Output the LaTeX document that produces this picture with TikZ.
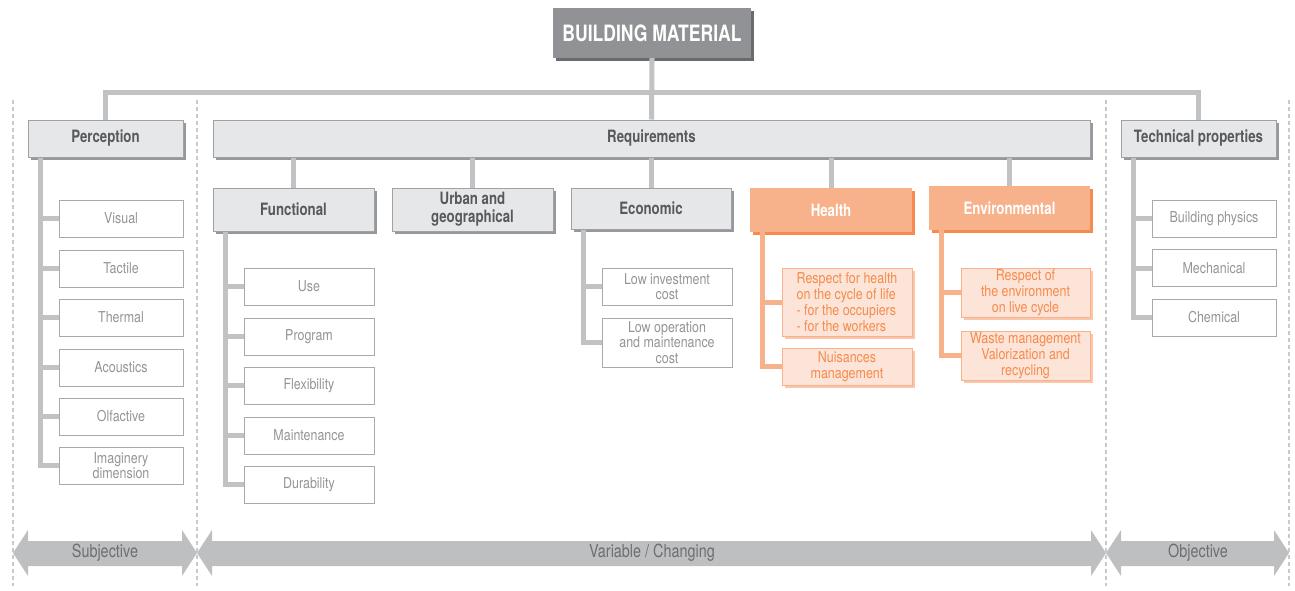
\documentclass[tikz,border=0pt]{standalone}
\usepackage{fontspec}
\setmainfont{TeX Gyre Heros}[FakeStretch=0.8]
\newfontfamily\childfont{TeX Gyre Heros}[FakeStretch=0.83]
\newfontfamily\hdrfont{TeX Gyre Heros}[FakeStretch=0.78]
\newfontfamily\titlefont{TeX Gyre Heros}[FakeStretch=0.78]
\usetikzlibrary{shadows}
\definecolor{titlefill}{HTML}{919295}
\definecolor{titleshadow}{HTML}{6A6B6E}
\definecolor{hdrfill}{HTML}{E6E7E8}
\definecolor{hdrborder}{HTML}{A0A1A4}
\definecolor{hdrshadow}{HTML}{97989B}
\definecolor{hdrtext}{HTML}{58595B}
\definecolor{conncol}{HTML}{C1C2C4}
\definecolor{childborder}{HTML}{A7A9AC}
\definecolor{childtext}{HTML}{939598}
\definecolor{orfill}{HTML}{F7B18B}
\definecolor{orshadow}{HTML}{F58B4C}
\definecolor{orchild}{HTML}{FDE4D8}
\definecolor{orchildshadow}{HTML}{F9C6AA}
\definecolor{ortext}{HTML}{F58B4C}
\definecolor{dashcol}{HTML}{C8C9CB}
\definecolor{arrowcol}{HTML}{BEBFC1}
\definecolor{arrowtext}{HTML}{6D6E71}
\tikzset{
  titlebox/.style={draw=none, fill=titlefill, text=white, font=\titlefont\bfseries\fontsize{22.5}{24}\selectfont,
    minimum width=198, minimum height=50, inner sep=0,
    general shadow={fill=titleshadow, shadow xshift=3pt, shadow yshift=-3pt}},
  hdr/.style={draw=hdrborder, line width=1pt, fill=hdrfill, text=hdrtext, align=center,
    font=\hdrfont\bfseries\fontsize{17}{18}\selectfont, inner sep=0,
    general shadow={fill=hdrshadow, shadow xshift=3pt, shadow yshift=-3pt}},
  orhdr/.style={draw=none, fill=orfill, text=white, align=center,
    font=\hdrfont\bfseries\fontsize{17}{18}\selectfont, inner sep=0,
    general shadow={fill=orshadow, shadow xshift=3pt, shadow yshift=-3pt}},
  child/.style={draw=childborder, line width=1pt, fill=white, text=childtext, align=center,
    font=\childfont\fontsize{15}{15.5}\selectfont, inner sep=0, minimum height=37},
  orchildbox/.style={draw=orfill, line width=1pt, fill=orchild, text=ortext, align=center,
    font=\childfont\fontsize{15}{16}\selectfont, inner sep=0, minimum height=37,
    general shadow={fill=orchildshadow, shadow xshift=3pt, shadow yshift=-3pt}},
  conn/.style={draw=conncol, line width=5pt},
  orconn/.style={draw=orfill, line width=5pt},
  sepline/.style={draw=dashcol, line width=2pt, dash pattern=on 4pt off 3pt},
  arrowlabel/.style={text=arrowtext, font=\fontsize{18}{20}\selectfont, inner sep=0},
}
\begin{document}
\begin{tikzpicture}[x=1pt,y=-1pt]
\useasboundingbox (0,0) rectangle (1295,590);
% separators
\foreach \xx in {13,197,1106,1289} \draw[sepline] (\xx,100) -- (\xx,586);
% bottom arrows
\foreach \xa/\xb in {13/197,197/1106,1106/1289}
  \fill[arrowcol] (\xa,553) -- (\xa+15,530) -- (\xa+15,541) -- (\xb-15,541) -- (\xb-15,530)
    -- (\xb,553) -- (\xb-15,576) -- (\xb-15,566) -- (\xa+15,566) -- (\xa+15,576) -- cycle;
\node[arrowlabel] (subj) at (105,553) {Subjective};
\node[arrowlabel] (vari) at (652,553) {Variable / Changing};
\node[arrowlabel] (obj) at (1198,553) {Objective};
% top
\node[titlebox] (bm) at (652,33) {BUILDING MATERIAL};
\node[hdr, minimum width=155, minimum height=37] (perc) at (105.5,138.5) {Perception};
\node[hdr, minimum width=877, minimum height=37] (req) at (651.5,138.5) {Requirements};
\node[hdr, minimum width=155, minimum height=37] (tech) at (1198.5,138.5) {Technical properties};
\coordinate (bus) at (652,92);
\draw[conn] (perc.north) |- (bus) -| (tech.north);
\draw[conn] (bm.south) -- (req.north);
% sub headers
\node[hdr, minimum width=161, minimum height=43] (func) at (293.5,209.5) {Functional};
\node[hdr, minimum width=161, minimum height=43] (urban) at (472.5,209.5) {Urban and\\geographical};
\node[hdr, minimum width=160, minimum height=41] (econ) at (651,208.5) {Economic};
\node[orhdr, minimum width=162, minimum height=44] (health) at (831,210) {Health};
\node[orhdr, minimum width=161, minimum height=44] (env) at (1009.5,208) {Environmental};
\foreach \n in {func,urban,econ,health,env}
  \draw[conn] (\n.north) -- (\n.north |- req.south);
% perception children
\node[child, minimum width=124] (vis) at (121,218.5) {Visual};
\node[child, minimum width=124] (tact) at (121,268.5) {Tactile};
\node[child, minimum width=124] (therm) at (121,317.5) {Thermal};
\node[child, minimum width=124] (acou) at (121,367.5) {Acoustics};
\node[child, minimum width=124] (olf) at (121,416.5) {Olfactive};
\node[child, minimum width=124] (imag) at (121,465.5) {Imaginery\\dimension};
\coordinate (pv) at ([xshift=13pt]perc.south west);
\foreach \n in {vis,tact,therm,acou,olf,imag} \draw[conn] (pv) |- (\n.west);
% functional children
\node[child, minimum width=130] (use) at (309,286.5) {Use};
\node[child, minimum width=130] (prog) at (309,336.5) {Program};
\node[child, minimum width=130] (flex) at (309,385.5) {Flexibility};
\node[child, minimum width=130] (maint) at (309,435.5) {Maintenance};
\node[child, minimum width=130] (dur) at (309,484.5) {Durability};
\coordinate (fv) at ([xshift=13pt]func.south west);
\foreach \n in {use,prog,flex,maint,dur} \draw[conn] (fv) |- (\n.west);
% economic children
\node[child, minimum width=130] (linv) at (667,286.5) {Low investment\\cost};
\node[child, minimum width=130, minimum height=49] (lop) at (667,342.5) {Low operation\\and maintenance\\cost};
\coordinate (ev) at ([xshift=13pt]econ.south west);
\foreach \n in {linv,lop} \draw[conn] (ev) |- (\n.west);
% health children
\node[orchildbox, align=left, minimum width=130, minimum height=68] (resp) at (847,302) {Respect for health\\on the cycle of life\\- for the occupiers\\- for the workers};
\node[orchildbox, minimum width=130] (nuis) at (847,366.5) {Nuisances\\management};
\coordinate (hv) at ([xshift=13pt]health.south west);
\foreach \n in {resp,nuis} \draw[orconn] (hv) |- (\n.west);
% environmental children
\node[orchildbox, minimum width=129, minimum height=49] (renv) at (1025.5,292.5) {Respect of\\the environment\\on live cycle};
\node[orchildbox, minimum width=129, minimum height=49] (waste) at (1025.5,355.5) {Waste management\\Valorization and\\recycling};
\coordinate (nv) at ([xshift=13pt]env.south west);
\foreach \n in {renv,waste} \draw[orconn] (nv) |- (\n.west);
% technical children
\node[child, minimum width=124] (bphys) at (1214,218.5) {Building physics};
\node[child, minimum width=124] (mech) at (1214,268) {Mechanical};
\node[child, minimum width=124] (chem) at (1214,317.5) {Chemical};
\coordinate (tv) at ([xshift=13pt]tech.south west);
\foreach \n in {bphys,mech,chem} \draw[conn] (tv) |- (\n.west);
\end{tikzpicture}
\end{document}
